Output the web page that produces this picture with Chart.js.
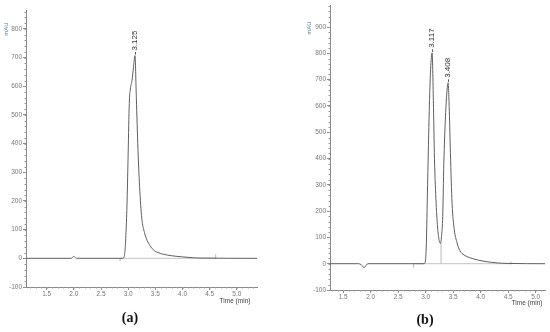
<!DOCTYPE html>
<html><head><meta charset="utf-8">
<script src="https://cdn.jsdelivr.net/npm/chart.js@4/dist/chart.umd.min.js"></script>
<style>
html,body{margin:0;padding:0;background:#fff;width:550px;height:332px;overflow:hidden}
#ca{position:absolute;left:0;top:0}
#cb{position:absolute;left:270px;top:0}
</style></head><body>
<canvas id="ca" width="270" height="332"></canvas>
<canvas id="cb" width="280" height="332"></canvas>
<script>
// ---- Chromatogram (a) ----
const timesA  = [1.12, 1.95, 1.98, 2.00, 2.02, 2.05, 2.90, 2.92, 2.94, 2.96, 2.98, 3.00, 3.02, 3.04, 3.07, 3.10, 3.125, 3.15, 3.18, 3.21, 3.25, 3.30, 3.35, 3.40, 3.46, 3.55, 3.65, 3.80, 4.00, 4.20, 4.30, 5.37];
const signalA = [0,    0,    4,    7,    4,    0,    0,    3,    25,   90,   200,  370,  540,  590,  620,  670,  707,   560,  380,  250,  140,  90,   62,   45,   30,   20,   14,   9,    5,    2,    1,    0];
const peakTimesA  = [3.125];
const peakValuesA = [707];
const peakLabelsA = ['3.125'];
const baselineA = [2.85, 4.61];
const markerTimesA = [2.85, 4.61];
const markerLowA   = [-10, -3];
const markerHighA  = [0, 14];

// ---- Chromatogram (b) ----
const timesB  = [1.26, 1.78, 1.83, 1.88, 1.92, 1.95, 2.97, 2.99, 3.01, 3.03, 3.05, 3.07, 3.09, 3.117, 3.14, 3.16, 3.19, 3.22, 3.25, 3.27, 3.29, 3.31, 3.33, 3.36, 3.385, 3.408, 3.43, 3.45, 3.48, 3.52, 3.57, 3.62, 3.70, 3.80, 3.95, 4.10, 4.30, 4.50, 5.17];
const signalB = [0,    0,    -4,   -15,  -5,   0,    0,    5,    60,   250,  450,  620,  740,  802,   620,  400,  230,  130,  85,   77,   110,  180,  380,  560,  650,   688,   580,  420,  230,  130,  80,   50,   33,   23,   14,   8,    3,    1,    0];
const peakTimesB  = [3.117, 3.408];
const peakValuesB = [802, 688];
const peakLabelsB = ['3.117', '3.408'];
const baselineB = [2.78, 4.55];
const markerTimesB = [2.78, 4.55, 3.28];
const markerLowB   = [-15, -3, 0];
const markerHighB  = [0, 8, 77];

// ---- Axes ----
const xTicks = [1.5, 2.0, 2.5, 3.0, 3.5, 4.0, 4.5, 5.0];
const xTickLabels = ['1.5', '2.0', '2.5', '3.0', '3.5', '4.0', '4.5', '5.0'];
const yTicksA = [-100, 0, 100, 200, 300, 400, 500, 600, 700, 800];
const yTicksB = [-100, 0, 100, 200, 300, 400, 500, 600, 700, 800, 900];
const yTickLabelsA = ['-100', '0', '100', '200', '300', '400', '500', '600', '700', '800'];
const yTickLabelsB = ['-100', '0', '100', '200', '300', '400', '500', '600', '700', '800', '900'];
const yUnit = 'mAU';
const xTitle = 'Time (min)';

function pts(xs, ys) { return xs.map((x, i) => ({x: x, y: ys[i]})); }

function makeChart(id, cfg) {
  const datasets = [];
  datasets.push({data: [{x: cfg.baseline[0], y: 0}, {x: cfg.baseline[1], y: 0}], borderColor: '#c4c4c4', borderWidth: 1, pointRadius: 0, order: 3});
  cfg.markerTimes.forEach((t, i) => {
    datasets.push({data: [{x: t, y: cfg.markerLow[i]}, {x: t, y: cfg.markerHigh[i]}], borderColor: '#b8b8b8', borderWidth: 1, pointRadius: 0, order: 2});
  });
  datasets.push({data: pts(cfg.times, cfg.signal), borderColor: '#5e5e5e', borderWidth: 1, pointRadius: 0, cubicInterpolationMode: 'monotone', order: 1});

  const deco = {
    id: 'deco',
    afterDraw(chart) {
      const ctx = chart.ctx, xs = chart.scales.x, ys = chart.scales.y;
      ctx.save();
      // minor ticks
      ctx.strokeStyle = '#9a9a9a'; ctx.lineWidth = 1;
      ctx.beginPath();
      for (let v = -100; v <= ys.max; v += 20) {
        const py = Math.round(ys.getPixelForValue(v)) + 0.5;
        ctx.moveTo(xs.left - 1.5, py); ctx.lineTo(xs.left, py);
      }
      for (let k = 12; k <= 54; k++) {
        const v = k / 10;
        if (v < xs.min || v > xs.max) continue;
        const px = Math.round(xs.getPixelForValue(v)) + 0.5;
        ctx.moveTo(px, ys.bottom); ctx.lineTo(px, ys.bottom + 1.5);
      }
      ctx.stroke();
      // peak labels
      ctx.fillStyle = '#333'; ctx.strokeStyle = '#555';
      ctx.font = '8px "Liberation Sans", Arial, sans-serif';
      cfg.peakTimes.forEach((t, i) => {
        const px = xs.getPixelForValue(t), py = ys.getPixelForValue(cfg.peakValues[i]);
        ctx.beginPath(); ctx.moveTo(Math.round(px) + 0.5, py - 1); ctx.lineTo(Math.round(px) + 0.5, py - 3.5); ctx.stroke();
        ctx.save(); ctx.translate(px, py - 5); ctx.rotate(-Math.PI / 2);
        ctx.textAlign = 'left'; ctx.textBaseline = 'middle';
        ctx.fillText(cfg.peakLabels[i], 0, 0); ctx.restore();
      });
      // unit label
      ctx.save(); ctx.translate(cfg.unitPos[0], cfg.unitPos[1]); ctx.rotate(-Math.PI / 2);
      ctx.fillStyle = '#4f7db0'; ctx.font = '6px "Liberation Sans", Arial, sans-serif';
      ctx.textAlign = 'center'; ctx.textBaseline = 'middle';
      ctx.fillText(yUnit, 0, 0); ctx.restore();
      // x title
      ctx.fillStyle = '#444'; ctx.font = '6.5px "Liberation Sans", Arial, sans-serif';
      ctx.textAlign = 'center'; ctx.textBaseline = 'middle';
      ctx.fillText(xTitle, cfg.titlePos[0], cfg.titlePos[1]);
      // caption
      ctx.fillStyle = '#111'; ctx.font = 'bold 14px "Liberation Serif", "Times New Roman", serif';
      ctx.fillText(cfg.caption, cfg.capPos[0], cfg.capPos[1]);
      ctx.restore();
    }
  };

  const tickFont = {family: '"Liberation Sans", Arial, sans-serif', size: 6.5};
  return new Chart(document.getElementById(id), {
    type: 'line',
    data: {datasets: datasets},
    options: {
      responsive: false, animation: false, events: [],
      layout: {padding: {left: 0, right: cfg.padRight, top: cfg.padTop, bottom: 0}},
      plugins: {legend: {display: false}, tooltip: {enabled: false}},
      scales: {
        x: {
          type: 'linear', min: cfg.xmin, max: cfg.xmax,
          afterBuildTicks: s => { s.ticks = xTicks.map(v => ({value: v})); },
          afterFit: s => { s.height = cfg.xh; },
          ticks: {autoSkip: false, maxRotation: 0, padding: 0, color: '#777', font: tickFont,
                  callback: (v, i) => xTickLabels[i]},
          grid: {drawOnChartArea: false, drawTicks: true, tickLength: 3, color: '#8a8a8a'},
          border: {display: true, color: '#8a8a8a', width: 1}
        },
        y: {
          type: 'linear', min: -100, max: cfg.ymax,
          afterBuildTicks: s => { s.ticks = cfg.yTicks.map(v => ({value: v})); },
          afterFit: s => { s.width = cfg.yw; },
          ticks: {autoSkip: false, padding: 1, color: '#777', font: tickFont,
                  callback: (v, i) => cfg.yTickLabels[i]},
          grid: {drawOnChartArea: false, drawTicks: true, tickLength: 3, color: '#8a8a8a'},
          border: {display: true, color: '#8a8a8a', width: 1}
        }
      }
    },
    plugins: [deco]
  });
}

makeChart('ca', {
  times: timesA, signal: signalA, peakTimes: peakTimesA, peakValues: peakValuesA, peakLabels: peakLabelsA,
  baseline: baselineA, markerTimes: markerTimesA, markerLow: markerLowA, markerHigh: markerHighA,
  yTicks: yTicksA, yTickLabels: yTickLabelsA,
  xmin: 1.12, xmax: 5.37, ymax: 866, yw: 26, xh: 45, padTop: 10, padRight: 13,
  unitPos: [6, 29], titlePos: [235, 301], caption: '(a)', capPos: [130, 318]
});
makeChart('cb', {
  times: timesB, signal: signalB, peakTimes: peakTimesB, peakValues: peakValuesB, peakLabels: peakLabelsB,
  baseline: baselineB, markerTimes: markerTimesB, markerLow: markerLowB, markerHigh: markerHighB,
  yTicks: yTicksB, yTickLabels: yTickLabelsB,
  xmin: 1.26, xmax: 5.17, ymax: 984, yw: 60, xh: 42, padTop: 5, padRight: 5,
  unitPos: [39.5, 28], titlePos: [257, 303], caption: '(b)', capPos: [155, 320]
});
</script>
</body></html>
